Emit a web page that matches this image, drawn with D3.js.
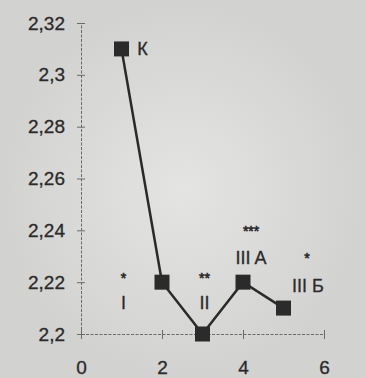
<!DOCTYPE html>
<html>
<head>
<meta charset="utf-8">
<script src="https://cdn.jsdelivr.net/npm/d3@7"></script>
<style>
  body { margin: 0; background: #d8d8d6; }
  svg { display: block; }
</style>
</head>
<body>
<div id="chart"></div>
<script>
// data
const xs = [1, 2, 3, 4, 5];
const ys = [2.31, 2.22, 2.2, 2.22, 2.21];
const yTicks = [2.2, 2.22, 2.24, 2.26, 2.28, 2.3, 2.32];
const yTickLabels = ["2,2", "2,22", "2,24", "2,26", "2,28", "2,3", "2,32"];
const xTicks = [0, 2, 4, 6];
// group labels and significance marks
const labels = [
  {x: 1.52, y: 2.31, t: "К"},
  {x: 1.05, y: 2.212, t: "I"},
  {x: 1.05, y: 2.2235, t: "*"},
  {x: 3.05, y: 2.212, t: "II"},
  {x: 3.05, y: 2.2235, t: "**"},
  {x: 4.2, y: 2.2295, t: "III A"},
  {x: 4.2, y: 2.2415, t: "***"},
  {x: 5.6, y: 2.2185, t: "III Б"},
  {x: 5.58, y: 2.231, t: "*"}
];

const cfg = {width: 366, height: 378, margin: {left: 81, right: 42, top: 23, bottom: 44}};

const svg = d3.select("#chart").append("svg")
  .attr("width", cfg.width)
  .attr("height", cfg.height);

// scanned-paper background, a bit lighter in the middle
const grad = svg.append("defs").append("radialGradient").attr("id", "paper");
grad.append("stop").attr("offset", "0%").attr("stop-color", "#e4e4e2");
grad.append("stop").attr("offset", "100%").attr("stop-color", "#d2d2d0");
svg.append("rect").attr("width", cfg.width).attr("height", cfg.height).attr("fill", "url(#paper)");

const xScale = d3.scaleLinear([0, 6], [cfg.margin.left, cfg.width - cfg.margin.right]);
const yScale = d3.scaleLinear([2.2, 2.32], [cfg.height - cfg.margin.bottom, cfg.margin.top]);

const ink = "#2a2a2a";
const font = "Liberation Sans, Arial, sans-serif";

// y axis
const yAxis = d3.axisLeft(yScale)
  .tickValues(yTicks)
  .tickFormat((d, i) => yTickLabels[i])
  .tickSizeInner(6).tickSizeOuter(0).tickPadding(10);
const gy = svg.append("g")
  .attr("transform", `translate(${cfg.margin.left},0)`)
  .call(yAxis);
gy.select(".domain").attr("stroke", "#6a6a6a").attr("stroke-dasharray", "3,1.5");
gy.selectAll(".tick line").attr("stroke", "#6a6a6a").attr("x2", 4).attr("x1", -4);
gy.selectAll(".tick text").attr("fill", ink).attr("font-size", 19).attr("font-family", font)
  .attr("stroke", ink).attr("stroke-width", 0.3);

// x axis
const xAxis = d3.axisBottom(xScale)
  .tickValues(xTicks)
  .tickFormat(d3.format("d"))
  .tickSizeInner(6).tickSizeOuter(0).tickPadding(21);
const gx = svg.append("g")
  .attr("transform", `translate(0,${cfg.height - cfg.margin.bottom})`)
  .call(xAxis);
gx.select(".domain").attr("stroke", "#6a6a6a").attr("stroke-dasharray", "3,1.5");
gx.selectAll(".tick line").attr("stroke", "#6a6a6a").attr("y1", -4).attr("y2", 5);
gx.selectAll(".tick text").attr("fill", ink).attr("font-size", 19).attr("font-family", font)
  .attr("stroke", ink).attr("stroke-width", 0.3);

// line
const line = d3.line()
  .x(d => xScale(d[0]))
  .y(d => yScale(d[1]));
svg.append("path")
  .datum(d3.zip(xs, ys))
  .attr("d", line)
  .attr("fill", "none")
  .attr("stroke", ink)
  .attr("stroke-width", 2.5);

// square markers
const sz = 15;
svg.append("g").selectAll("rect")
  .data(d3.zip(xs, ys))
  .join("rect")
  .attr("x", d => xScale(d[0]) - sz / 2)
  .attr("y", d => yScale(d[1]) - sz / 2)
  .attr("width", sz)
  .attr("height", sz)
  .attr("fill", "#2b2b2b");

// labels
svg.append("g").selectAll("text")
  .data(labels)
  .join("text")
  .attr("x", d => xScale(d.x))
  .attr("y", d => yScale(d.y))
  .attr("dy", d => d.t.startsWith("*") ? "0.7em" : "0.35em")
  .attr("text-anchor", "middle")
  .attr("fill", ink)
  .attr("stroke", ink)
  .attr("stroke-width", d => d.t.startsWith("*") ? 0.6 : 0.3)
  .attr("font-family", font)
  .attr("font-size", d => d.t.startsWith("*") ? 14 : 18)
  .text(d => d.t);
</script>
</body>
</html>
